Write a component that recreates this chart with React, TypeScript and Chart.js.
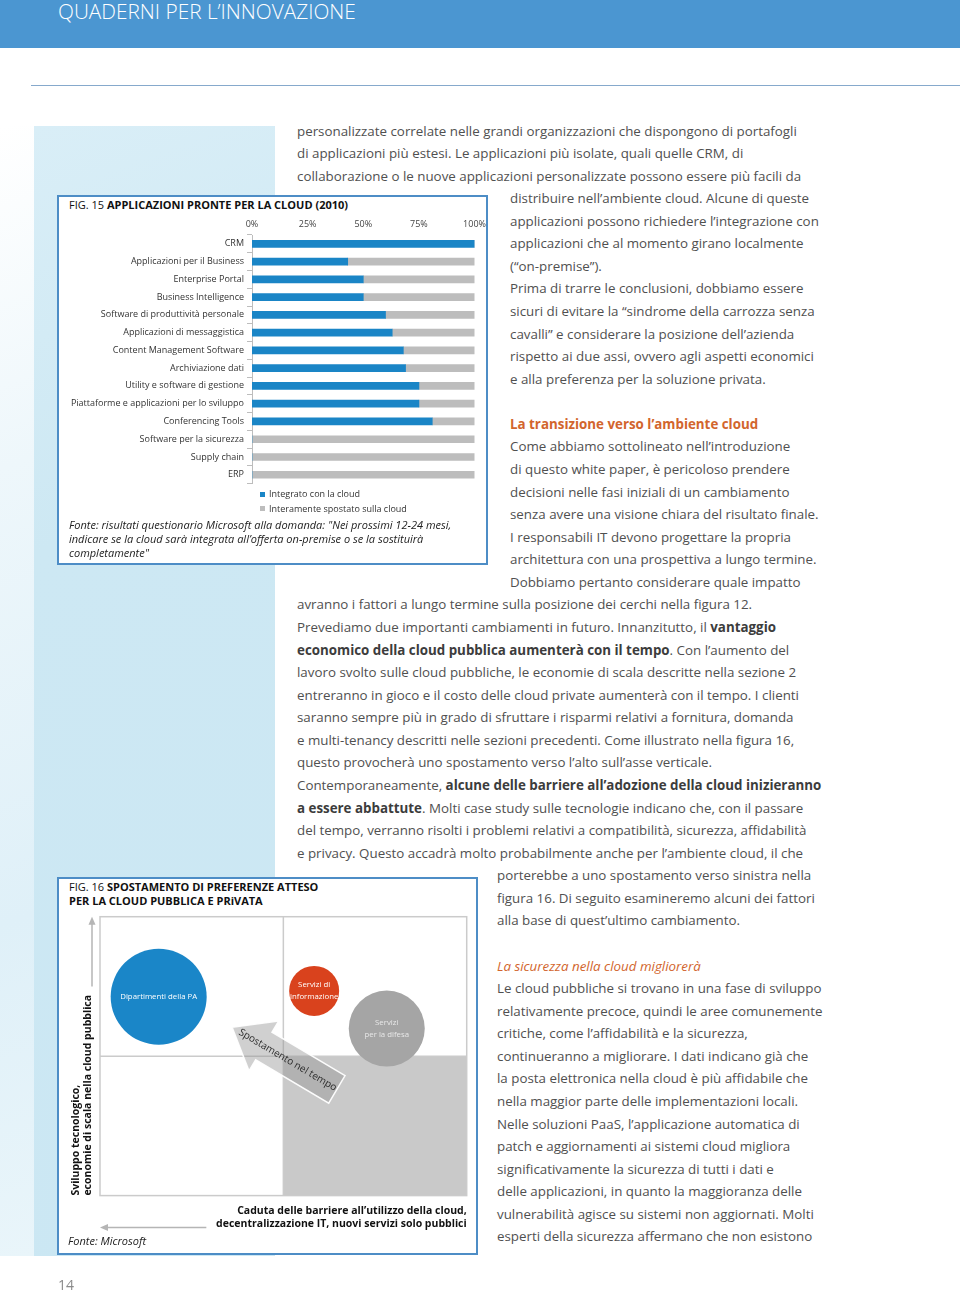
import React, { useEffect, useRef } from "react";
import { Chart, registerables } from "chart.js";

Chart.register(...registerables);

const FONT = '"Open Sans", "Noto Sans", sans-serif';
const BLUE = "#1a85c6";
const GRAY = "#bdbdbd";
const TEXT = "#505050";
const ORANGE = "#d2652d";

// ---------- FIG. 15 data ----------
const fig15Labels = [
  "CRM",
  "Applicazioni per il Business",
  "Enterprise Portal",
  "Business Intelligence",
  "Software di produttività personale",
  "Applicazioni di messaggistica",
  "Content Management Software",
  "Archiviazione dati",
  "Utility e software di gestione",
  "Piattaforme e applicazioni per lo sviluppo",
  "Conferencing Tools",
  "Software per la sicurezza",
  "Supply chain",
  "ERP",
];
const integratedValues = [100, 43, 50, 50, 60, 63, 68, 69, 75, 75, 81, 0, 0, 0];
const movedValues = [0, 57, 50, 50, 40, 37, 32, 31, 25, 25, 19, 100, 100, 100];
const percentTicks = ["0%", "25%", "50%", "75%", "100%"];
const seriesNames = ["Integrato con la cloud", "Interamente spostato sulla cloud"];

// ---------- FIG. 16 data ----------
const bubbleNames = [["Dipartimenti della PA"], ["Servizi di", "informazione"], ["Servizi", "per la difesa"]];
const bubbleX = [16, 58.4, 78.2];
const bubbleY = [71.3, 73.4, 59.9];
const bubbleR = [48, 25, 38];
const bubbleColors = ["#1a86c8", "#d9421d", "#a5a5a5"];
const bubbleTextColors = ["#ffffff", "#ffffff", "#e8e8e8"];
const shiftFrom = { x: 64.6, y: 38.1 };
const shiftTo = { x: 36, y: 60.4 };
const shiftLabel = "Spostamento nel tempo";
const yAxisTitle = ["Sviluppo tecnologico,", "economie di scala nella cloud pubblica"];
const xAxisTitle = ["Caduta delle barriere all’utilizzo della cloud,", "decentralizzazione IT, nuovi servizi solo pubblici"];

// ---------- page text ----------
const bodyLines: [number, number, string][] = [
  [0, 297, "personalizzate correlate nelle grandi organizzazioni che dispongono di portafogli"],
  [1, 297, "di applicazioni più estesi. Le applicazioni più isolate, quali quelle CRM, di"],
  [2, 297, "collaborazione o le nuove applicazioni personalizzate possono essere più facili da"],
  [3, 510, "distribuire nell’ambiente cloud. Alcune di queste"],
  [4, 510, "applicazioni possono richiedere l’integrazione con"],
  [5, 510, "applicazioni che al momento girano localmente"],
  [6, 510, "(“on-premise”)."],
  [7, 510, "Prima di trarre le conclusioni, dobbiamo essere"],
  [8, 510, "sicuri di evitare la “sindrome della carrozza senza"],
  [9, 510, "cavalli” e considerare la posizione dell’azienda"],
  [10, 510, "rispetto ai due assi, ovvero agli aspetti economici"],
  [11, 510, "e alla preferenza per la soluzione privata."],
  [14, 510, "Come abbiamo sottolineato nell’introduzione"],
  [15, 510, "di questo white paper, è pericoloso prendere"],
  [16, 510, "decisioni nelle fasi iniziali di un cambiamento"],
  [17, 510, "senza avere una visione chiara del risultato finale."],
  [18, 510, "I responsabili IT devono progettare la propria"],
  [19, 510, "architettura con una prospettiva a lungo termine."],
  [20, 510, "Dobbiamo pertanto considerare quale impatto"],
  [21, 297, "avranno i fattori a lungo termine sulla posizione dei cerchi nella figura 12."],
  [22, 297, "Prevediamo due importanti cambiamenti in futuro. Innanzitutto, il **vantaggio**"],
  [23, 297, "**economico della cloud pubblica aumenterà con il tempo**. Con l’aumento del"],
  [24, 297, "lavoro svolto sulle cloud pubbliche, le economie di scala descritte nella sezione 2"],
  [25, 297, "entreranno in gioco e il costo delle cloud private aumenterà con il tempo. I clienti"],
  [26, 297, "saranno sempre più in grado di sfruttare i risparmi relativi a fornitura, domanda"],
  [27, 297, "e multi-tenancy descritti nelle sezioni precedenti. Come illustrato nella figura 16,"],
  [28, 297, "questo provocherà uno spostamento verso l’alto sull’asse verticale."],
  [29, 297, "Contemporaneamente, **alcune delle barriere all’adozione della cloud inizieranno**"],
  [30, 297, "**a essere abbattute**. Molti case study sulle tecnologie indicano che, con il passare"],
  [31, 297, "del tempo, verranno risolti i problemi relativi a compatibilità, sicurezza, affidabilità"],
  [32, 297, "e privacy. Questo accadrà molto probabilmente anche per l’ambiente cloud, il che"],
  [33, 497, "porterebbe a uno spostamento verso sinistra nella"],
  [34, 497, "figura 16. Di seguito esamineremo alcuni dei fattori"],
  [35, 497, "alla base di quest’ultimo cambiamento."],
  [38, 497, "Le cloud pubbliche si trovano in una fase di sviluppo"],
  [39, 497, "relativamente precoce, quindi le aree comunemente"],
  [40, 497, "critiche, come l’affidabilità e la sicurezza,"],
  [41, 497, "continueranno a migliorare. I dati indicano già che"],
  [42, 497, "la posta elettronica nella cloud è più affidabile che"],
  [43, 497, "nella maggior parte delle implementazioni locali."],
  [44, 497, "Nelle soluzioni PaaS, l’applicazione automatica di"],
  [45, 497, "patch e aggiornamenti ai sistemi cloud migliora"],
  [46, 497, "significativamente la sicurezza di tutti i dati e"],
  [47, 497, "delle applicazioni, in quanto la maggioranza delle"],
  [48, 497, "vulnerabilità agisce su sistemi non aggiornati. Molti"],
  [49, 497, "esperti della sicurezza affermano che non esistono"],
];

const LINE0 = 131;
const LINE_STEP = 22.57;
const BODY_SIZE = 13.35;
const lineTop = (n: number) => LINE0 + LINE_STEP * n - 11.5;

function renderRich(s: string) {
  return s.split("**").map((part, i) =>
    i % 2 === 1 ? (
      <b key={i} style={{ fontWeight: 700, color: "#3c3c3c" }}>{part}</b>
    ) : (
      <span key={i}>{part}</span>
    )
  );
}

function Fig15() {
  const ref = useRef<HTMLCanvasElement | null>(null);
  useEffect(() => {
    if (!ref.current) return;
    const chart = new Chart(ref.current, {
      type: "bar",
      data: {
        labels: fig15Labels,
        datasets: [
          { label: seriesNames[0], data: integratedValues, backgroundColor: BLUE, barThickness: 7 },
          { label: seriesNames[1], data: movedValues, backgroundColor: GRAY, barThickness: 7 },
        ],
      },
      options: {
        indexAxis: "y",
        responsive: false,
        animation: false,
        maintainAspectRatio: false,
        layout: { autoPadding: false, padding: { top: 0, right: 10, bottom: 0, left: 0 } },
        plugins: { legend: { display: false }, tooltip: { enabled: false } },
        scales: {
          x: {
            position: "top",
            stacked: true,
            min: 0,
            max: 100,
            grid: { display: false, drawTicks: false },
            border: { display: false },
            ticks: {
              stepSize: 25,
              maxRotation: 0,
              padding: 5,
              color: "#444",
              font: { family: FONT, size: 9 },
              callback: (v: any) => percentTicks[Math.round(Number(v) / 25)],
            },
            afterFit: (s: any) => {
              s.height = 21;
            },
          },
          y: {
            stacked: true,
            grid: { drawOnChartArea: false, color: "#bdbdbd", tickLength: 5, offset: true },
            border: { display: true, color: "#bdbdbd" },
            ticks: { padding: 3, color: "#333", font: { family: FONT, size: 9 }, autoSkip: false },
            afterFit: (s: any) => {
              s.width = 190;
            },
          },
        },
      },
    });
    return () => chart.destroy();
  }, []);
  return (
    <canvas
      ref={ref}
      width={429}
      height={278}
      style={{ position: "absolute", left: 62, top: 214, width: 429, height: 278 }}
    />
  );
}

const fig16Plugin = {
  id: "fig16Decor",
  beforeDatasetsDraw(chart: any) {
    const { ctx, chartArea: a, scales } = chart;
    const x = scales.x;
    const y = scales.y;
    const mx = x.getPixelForValue(50);
    const my = y.getPixelForValue(50);
    ctx.save();
    ctx.fillStyle = "#c9c9c9";
    ctx.fillRect(mx, my, x.getPixelForValue(100) - mx, y.getPixelForValue(0) - my);
    ctx.strokeStyle = "#cbcbcb";
    ctx.lineWidth = 1.5;
    ctx.strokeRect(a.left, a.top, a.right - a.left, a.bottom - a.top);
    ctx.beginPath();
    ctx.moveTo(mx, a.top);
    ctx.lineTo(mx, a.bottom);
    ctx.moveTo(a.left, my);
    ctx.lineTo(a.right, my);
    ctx.stroke();

    // axis direction arrows
    ctx.strokeStyle = "#b5b5b5";
    ctx.fillStyle = "#b5b5b5";
    ctx.lineWidth = 1.5;
    const ax = a.left - 8;
    ctx.beginPath();
    ctx.moveTo(ax, y.getPixelForValue(75));
    ctx.lineTo(ax, a.top + 6);
    ctx.stroke();
    ctx.beginPath();
    ctx.moveTo(ax, a.top);
    ctx.lineTo(ax - 3.5, a.top + 8);
    ctx.lineTo(ax + 3.5, a.top + 8);
    ctx.closePath();
    ctx.fill();

    const ay = a.bottom + 32;
    ctx.beginPath();
    ctx.moveTo(x.getPixelForValue(29), ay);
    ctx.lineTo(a.left + 6, ay);
    ctx.stroke();
    ctx.beginPath();
    ctx.moveTo(a.left, ay);
    ctx.lineTo(a.left + 8, ay - 3.5);
    ctx.lineTo(a.left + 8, ay + 3.5);
    ctx.closePath();
    ctx.fill();
    ctx.restore();
  },
  afterDatasetsDraw(chart: any) {
    const { ctx, scales } = chart;
    const x = scales.x;
    const y = scales.y;
    ctx.save();
    // big shift arrow
    const S = { x: x.getPixelForValue(shiftFrom.x), y: y.getPixelForValue(shiftFrom.y) };
    const T = { x: x.getPixelForValue(shiftTo.x), y: y.getPixelForValue(shiftTo.y) };
    const dx = T.x - S.x;
    const dy = T.y - S.y;
    const len = Math.hypot(dx, dy);
    const u = { x: dx / len, y: dy / len };
    const n = { x: -u.y, y: u.x };
    const bw = 16;
    const hw = 29;
    const hl = 37;
    const H = { x: T.x - u.x * hl, y: T.y - u.y * hl };
    ctx.beginPath();
    ctx.moveTo(S.x + n.x * bw, S.y + n.y * bw);
    ctx.lineTo(H.x + n.x * bw, H.y + n.y * bw);
    ctx.lineTo(H.x + n.x * hw, H.y + n.y * hw);
    ctx.lineTo(T.x, T.y);
    ctx.lineTo(H.x - n.x * hw, H.y - n.y * hw);
    ctx.lineTo(H.x - n.x * bw, H.y - n.y * bw);
    ctx.lineTo(S.x - n.x * bw, S.y - n.y * bw);
    ctx.closePath();
    ctx.fillStyle = "rgba(150,150,150,0.45)";
    ctx.fill();
    ctx.strokeStyle = "rgba(255,255,255,0.95)";
    ctx.lineWidth = 1.5;
    ctx.stroke();

    ctx.translate(S.x + dx * 0.47, S.y + dy * 0.47);
    ctx.rotate(Math.atan2(-dy, -dx));
    ctx.fillStyle = "#2a2a2a";
    ctx.font = `10px ${FONT}`;
    ctx.textAlign = "center";
    ctx.textBaseline = "middle";
    ctx.fillText(shiftLabel, 0, 0);
    ctx.restore();

    // bubble labels
    ctx.save();
    const meta = chart.getDatasetMeta(0);
    ctx.font = `7.8px ${FONT}`;
    ctx.textAlign = "center";
    ctx.textBaseline = "middle";
    meta.data.forEach((el: any, i: number) => {
      const lines = bubbleNames[i];
      ctx.fillStyle = bubbleTextColors[i];
      lines.forEach((t, k) => {
        ctx.fillText(t, el.x, el.y + (k - (lines.length - 1) / 2) * 11.5);
      });
    });
    ctx.restore();
  },
};

function Fig16() {
  const ref = useRef<HTMLCanvasElement | null>(null);
  useEffect(() => {
    if (!ref.current) return;
    const chart = new Chart(ref.current, {
      type: "bubble",
      data: {
        datasets: [
          {
            label: "fig16",
            data: bubbleX.map((v, i) => ({ x: v, y: bubbleY[i], r: bubbleR[i] })),
            backgroundColor: bubbleColors,
            borderWidth: 0,
            clip: false,
          },
        ],
      },
      options: {
        responsive: false,
        animation: false,
        maintainAspectRatio: false,
        layout: { autoPadding: false, padding: { top: 10.7, right: 9.3, bottom: 6, left: 0 } },
        plugins: { legend: { display: false }, tooltip: { enabled: false } },
        scales: {
          x: {
            min: 0,
            max: 100,
            grid: { display: false },
            border: { display: false },
            ticks: { display: false },
            title: {
              display: true,
              text: xAxisTitle,
              align: "end",
              color: "#111",
              font: { family: FONT, size: 10.5, weight: "bold" },
              padding: { top: 8, bottom: 0 },
            },
            afterFit: (s: any) => {
              s.height = 34.4;
            },
          },
          y: {
            min: 0,
            max: 100,
            grid: { display: false },
            border: { display: false },
            ticks: { display: false },
            title: {
              display: true,
              text: yAxisTitle,
              align: "start",
              color: "#111",
              font: { family: FONT, size: 10.5, weight: "bold" },
              padding: { top: 7.4, bottom: 0 },
            },
            afterFit: (s: any) => {
              s.width = 38;
            },
          },
        },
      },
      plugins: [fig16Plugin],
    });
    return () => chart.destroy();
  }, []);
  return (
    <canvas
      ref={ref}
      width={414}
      height={330}
      style={{ position: "absolute", left: 62, top: 906, width: 414, height: 330 }}
    />
  );
}

export default function App() {
  return (
    <div
      style={{
        position: "absolute",
        left: 0,
        top: 0,
        width: 960,
        height: 1292,
        overflow: "hidden",
        background: "#fff",
        fontFamily: FONT,
      }}
    >
      {/* header */}
      <div style={{ position: "absolute", left: 0, top: 0, width: 960, height: 48, background: "#4b96d1" }} />
      <div
        style={{
          position: "absolute",
          left: 58,
          top: -2,
          color: "#fff",
          fontSize: 20.8,
          fontWeight: 300,
          lineHeight: "26px",
          whiteSpace: "nowrap",
        }}
      >
        QUADERNI PER L’INNOVAZIONE
      </div>
      <div style={{ position: "absolute", left: 31, top: 85, width: 929, height: 1, background: "#86a9cc" }} />

      {/* light blue side panel */}
      <div
        style={{
          position: "absolute",
          left: 0,
          top: 126,
          width: 34,
          height: 1130,
          background: "linear-gradient(160deg, #ffffff 0%, #eef7fb 30%, #dff0f8 70%, #e9f5fa 100%)",
        }}
      />
      <div
        style={{
          position: "absolute",
          left: 34,
          top: 126,
          width: 241,
          height: 1130,
          background: "linear-gradient(160deg, #d9eef7 0%, #cde8f3 35%, #cbe7f3 100%)",
        }}
      />

      {/* body text */}
      {bodyLines.map(([n, x, s]) => (
        <div
          key={n}
          style={{
            position: "absolute",
            left: x,
            top: lineTop(n),
            fontSize: BODY_SIZE,
            lineHeight: "22px",
            color: TEXT,
            whiteSpace: "nowrap",
          }}
        >
          {renderRich(s)}
        </div>
      ))}
      <div
        style={{
          position: "absolute",
          left: 510,
          top: lineTop(13),
          fontSize: BODY_SIZE,
          lineHeight: "22px",
          color: ORANGE,
          fontWeight: 700,
          whiteSpace: "nowrap",
        }}
      >
        La transizione verso l’ambiente cloud
      </div>
      <div
        style={{
          position: "absolute",
          left: 497,
          top: lineTop(37),
          fontSize: BODY_SIZE,
          lineHeight: "22px",
          color: ORANGE,
          fontStyle: "italic",
          whiteSpace: "nowrap",
        }}
      >
        La sicurezza nella cloud migliorerà
      </div>

      {/* FIG 15 */}
      <div
        style={{
          position: "absolute",
          left: 57,
          top: 195,
          width: 427,
          height: 366,
          border: "2px solid #4d8dc6",
          background: "#fff",
        }}
      />
      <div
        style={{
          position: "absolute",
          left: 69,
          top: 197,
          fontSize: 11,
          lineHeight: "16px",
          color: "#111",
          whiteSpace: "nowrap",
        }}
      >
        FIG. 15 <b>APPLICAZIONI PRONTE PER LA CLOUD (2010)</b>
      </div>
      <Fig15 />
      {seriesNames.map((name, i) => (
        <div
          key={name}
          style={{
            position: "absolute",
            left: 260,
            top: 487 + i * 14.5,
            fontSize: 9,
            lineHeight: "14px",
            color: "#333",
            whiteSpace: "nowrap",
            display: "flex",
            alignItems: "center",
          }}
        >
          <span
            style={{
              display: "inline-block",
              width: 5,
              height: 5,
              background: i === 0 ? BLUE : GRAY,
              marginRight: 4,
            }}
          />
          {name}
        </div>
      ))}
      <div
        style={{
          position: "absolute",
          left: 69,
          top: 518,
          fontSize: 11,
          lineHeight: "14px",
          color: "#222",
          fontStyle: "italic",
          whiteSpace: "nowrap",
        }}
      >
        Fonte: risultati questionario Microsoft alla domanda: "Nei prossimi 12-24 mesi,
        <br />
        indicare se la cloud sarà integrata all’offerta on-premise o se la sostituirà
        <br />
        completamente"
      </div>

      {/* FIG 16 */}
      <div
        style={{
          position: "absolute",
          left: 57,
          top: 877,
          width: 417,
          height: 374,
          border: "2px solid #4d8dc6",
          background: "#fff",
        }}
      />
      <div
        style={{
          position: "absolute",
          left: 69,
          top: 880,
          fontSize: 11,
          lineHeight: "14px",
          color: "#111",
          whiteSpace: "nowrap",
        }}
      >
        FIG. 16 <b>SPOSTAMENTO DI PREFERENZE ATTESO</b>
        <br />
        <b>PER LA CLOUD PUBBLICA E PRiVATA</b>
      </div>
      <Fig16 />
      <div
        style={{
          position: "absolute",
          left: 68,
          top: 1233,
          fontSize: 11,
          lineHeight: "16px",
          color: "#222",
          fontStyle: "italic",
          whiteSpace: "nowrap",
        }}
      >
        Fonte: Microsoft
      </div>

      <div
        style={{
          position: "absolute",
          left: 58,
          top: 1275,
          fontSize: 14,
          lineHeight: "20px",
          color: "#8a8a8a",
        }}
      >
        14
      </div>
    </div>
  );
}
